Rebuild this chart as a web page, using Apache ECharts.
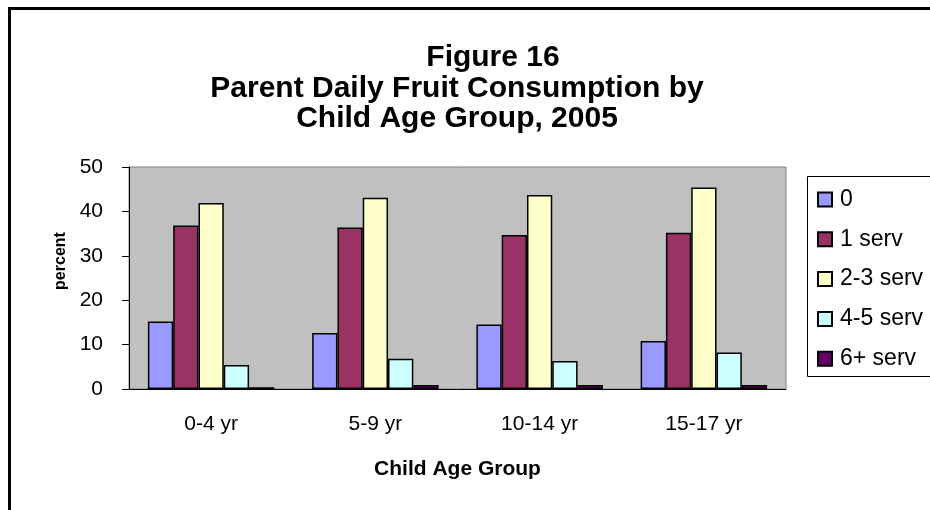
<!DOCTYPE html>
<html>
<head>
<meta charset="utf-8">
<script src="https://cdn.jsdelivr.net/npm/echarts@6/dist/echarts.min.js"></script>
<style>
  html, body { margin: 0; padding: 0; background: #fff; }
  #chart { width: 930px; height: 510px; }
</style>
</head>
<body>
<div id="chart"></div>
<script>
const ageGroups = ["0-4 yr", "5-9 yr", "10-14 yr", "15-17 yr"];
const servNames = ["0", "1 serv", "2-3 serv", "4-5 serv", "6+ serv"];
const servColors = ["#9999FF", "#993366", "#FFFFCC", "#CCFFFF", "#660066"];
// percent per age group, one array per serving level
const serv0 = [15.2, 12.6, 14.5, 10.8];
const serv1 = [36.8, 36.4, 34.7, 35.2];
const serv23 = [41.9, 43.1, 43.7, 45.4];
const serv45 = [5.4, 6.8, 6.3, 8.2];
const serv6 = [0.4, 0.9, 0.9, 0.9];
const yTicks = [0, 10, 20, 30, 40, 50];

const servData = [serv0, serv1, serv23, serv45, serv6];
const font = "Liberation Sans, Arial, sans-serif";

const chart = echarts.init(document.getElementById("chart"));

const series = servNames.map((name, i) => ({
  name: name,
  type: "bar",
  data: servData[i],
  barGap: "0%",
  barCategoryGap: "23%",
  itemStyle: { color: servColors[i], borderColor: "#000", borderWidth: 1.5 },
  emphasis: { disabled: true },
}));

const option = {
  animation: false,
  title: [
    {
      text: "Figure 16",
      left: 493,
      top: 43,
      padding: 0,
      textAlign: "center",
      textStyle: { fontFamily: font, fontSize: 30, fontWeight: "bold", color: "#000", lineHeight: 30 },
    },
    {
      text: "Parent Daily Fruit Consumption by\nChild Age Group, 2005",
      left: 457,
      top: 74,
      padding: 0,
      textAlign: "center",
      textStyle: { fontFamily: font, fontSize: 30, fontWeight: "bold", color: "#000", lineHeight: 30 },
    },
  ],
  legend: {
    orient: "vertical",
    left: 817,
    top: 188,
    padding: 0,
    itemWidth: 14,
    itemHeight: 14,
    itemGap: 16.8,
    icon: "rect",
    textStyle: { fontFamily: font, fontSize: 23, color: "#000", lineHeight: 22, padding: [0, 0, 0, 3] },
    data: servNames,
  },
  grid: {
    left: 129,
    right: 144,
    top: 167,
    bottom: 121,
    show: true,
    backgroundColor: "#C0C0C0",
    borderColor: "#808080",
    borderWidth: 1,
  },
  xAxis: {
    type: "category",
    data: ageGroups,
    name: "Child Age Group",
    nameLocation: "middle",
    nameGap: 70,
    nameTextStyle: { fontFamily: font, fontSize: 21, fontWeight: "bold", color: "#000" },
    axisLine: { lineStyle: { color: "#000", width: 1 } },
    axisTick: { length: 7, lineStyle: { color: "#000" } },
    axisLabel: { fontFamily: font, fontSize: 21, color: "#000", margin: 25 },
  },
  yAxis: {
    type: "value",
    min: yTicks[0],
    max: yTicks[yTicks.length - 1],
    interval: 10,
    axisLine: { show: true, lineStyle: { color: "#000", width: 1 } },
    axisTick: { show: true, length: 7, lineStyle: { color: "#000" } },
    axisLabel: { fontFamily: font, fontSize: 21, color: "#000", margin: 26 },
    splitLine: { show: false },
  },
  graphic: [
    {
      type: "rect",
      shape: { x: 9.5, y: 8.5, width: 960, height: 560 },
      style: { fill: null, stroke: "#000", lineWidth: 3 },
      silent: true,
    },
    {
      type: "rect",
      shape: { x: 807.5, y: 176.5, width: 200, height: 200 },
      style: { fill: null, stroke: "#000", lineWidth: 1 },
      silent: true,
      z: -1,
    },
    {
      type: "text",
      x: 61,
      y: 261,
      rotation: Math.PI / 2,
      style: {
        text: "percent",
        font: "bold 16px " + font,
        fill: "#000",
        align: "center",
        verticalAlign: "middle",
      },
      silent: true,
    },
  ],
  series: series,
};

chart.setOption(option);
</script>
</body>
</html>
